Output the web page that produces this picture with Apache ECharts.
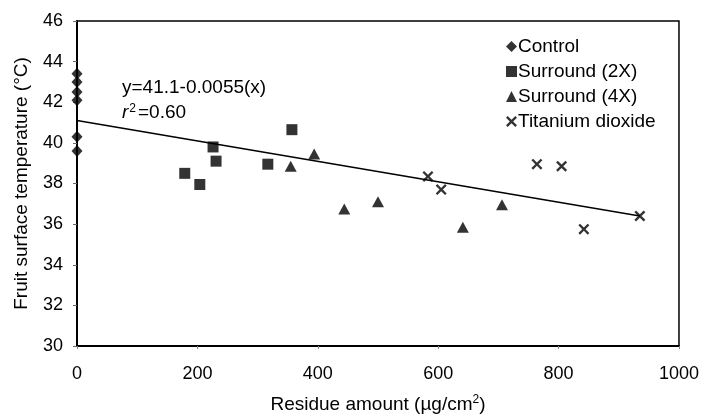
<!DOCTYPE html>
<html><head><meta charset="utf-8">
<script src="https://cdn.jsdelivr.net/npm/echarts@6/dist/echarts.min.js"></script>
<style>html,body{margin:0;padding:0;background:#fff}#c{width:702px;height:419px}</style>
</head><body><div id="c"></div>
<script>
var FONT = '"Liberation Sans", Arial, sans-serif';
var xTicks = [0, 200, 400, 600, 800, 1000];
var yTicks = [30, 32, 34, 36, 38, 40, 42, 44, 46];
var controlX = [0, 0, 0, 0, 0, 0];
var controlY = [43.4, 43.0, 42.5, 42.1, 40.3, 39.6];
var surround2X = [179, 204, 226, 231, 317, 357];
var surround2Y = [38.5, 37.95, 39.8, 39.1, 38.95, 40.65];
var surround4X = [355, 394, 444, 500, 641, 706];
var surround4Y = [38.85, 39.45, 36.75, 37.1, 35.85, 36.95];
var tio2X = [583, 605, 764, 805, 842, 935];
var tio2Y = [38.35, 37.7, 38.95, 38.85, 35.75, 36.4];
var fitX = [0, 935];
var fitY = [41.1, 36.4];

function pairs(xs, ys){ return xs.map(function(x,i){ return [x, ys[i]]; }); }
var xPath = 'path://M0,1.5L1.5,0L5,3.5L8.5,0L10,1.5L6.5,5L10,8.5L8.5,10L5,6.5L1.5,10L0,8.5L3.5,5Z';

var chart = echarts.init(document.getElementById('c'), null, {renderer:'canvas'});
chart.setOption({
  animation: false,
  textStyle: {fontFamily: FONT, color: '#000'},
  grid: {left: 77, right: 22, top: 21, bottom: 67, show: true, borderColor: '#000', borderWidth: 1.5, backgroundColor: 'transparent'},
  legend: {
    orient: 'vertical', left: 501, top: 32, itemGap: 6, itemWidth: 11, itemHeight: 11,
    textStyle: {fontFamily: FONT, fontSize: 19, color: '#000', padding: [0,0,0,-4]},
    data: [
      {name: 'Control', icon: 'diamond'},
      {name: 'Surround (2X)', icon: 'rect'},
      {name: 'Surround (4X)', icon: 'triangle'},
      {name: 'Titanium dioxide', icon: xPath}
    ]
  },
  xAxis: {
    type: 'value', min: xTicks[0], max: xTicks[xTicks.length-1], interval: 200,
    axisLine: {lineStyle: {color: '#000', width: 2}},
    axisTick: {show: true, inside: false, length: 3, lineStyle: {color: '#888', width: 1}},
    splitLine: {show: false},
    axisLabel: {fontSize: 18, color: '#000', margin: 19, fontFamily: FONT, formatter: function(v){ return String(v); }},
    name: 'Residue amount (µg/cm{sup|2})', nameLocation: 'middle', nameGap: 48,
    nameTextStyle: {fontSize: 19, color: '#000', fontFamily: FONT,
      rich: {sup: {fontSize: 12, verticalAlign: 'top', padding: [0,0,9,0], fontFamily: FONT, color:'#000'}}}
  },
  yAxis: {
    type: 'value', min: yTicks[0], max: yTicks[yTicks.length-1], interval: 2,
    axisLine: {lineStyle: {color: '#000', width: 2}},
    axisTick: {show: true, inside: false, length: 4, lineStyle: {color: '#666', width: 1}},
    splitLine: {show: false},
    axisLabel: {fontSize: 18, color: '#000', margin: 14, fontFamily: FONT},
    name: 'Fruit surface temperature (°C)', nameLocation: 'middle', nameGap: 46,
    nameTextStyle: {fontSize: 19, color: '#000', fontFamily: FONT}
  },
  graphic: [
    {type: 'text', left: 122, top: 78, style: {text: 'y=41.1-0.0055(x)', font: '19px ' + FONT, fill: '#000'}},
    {type: 'text', left: 122, top: 103, style: {
      text: '{i|r}{s|2}{n|=0.60}', fill: '#000',
      rich: {
        i: {fontSize: 19, fontStyle: 'italic', fontFamily: FONT},
        s: {fontSize: 12, fontFamily: FONT, verticalAlign: 'top', padding: [0,2,8,1]},
        n: {fontSize: 19, fontFamily: FONT}
      }}}
  ],
  series: [
    {name: 'Fit', type: 'line', data: pairs(fitX, fitY), symbol: 'none', lineStyle: {color: '#000', width: 1.5}, silent: true, z: 1},
    {name: 'Control', type: 'scatter', data: pairs(controlX, controlY), symbol: 'diamond', symbolSize: [11, 12], itemStyle: {color: '#000'}, clip: false, z: 3},
    {name: 'Surround (2X)', type: 'scatter', data: pairs(surround2X, surround2Y), symbol: 'rect', symbolSize: 11, itemStyle: {color: '#000'}, clip: false},
    {name: 'Surround (4X)', type: 'scatter', data: pairs(surround4X, surround4Y), symbol: 'triangle', symbolSize: [12, 11], itemStyle: {color: '#000'}, clip: false},
    {name: 'Titanium dioxide', type: 'scatter', data: pairs(tio2X, tio2Y), symbol: xPath, symbolSize: 11, itemStyle: {color: '#000'}, clip: false}
  ]
});
</script></body></html>
